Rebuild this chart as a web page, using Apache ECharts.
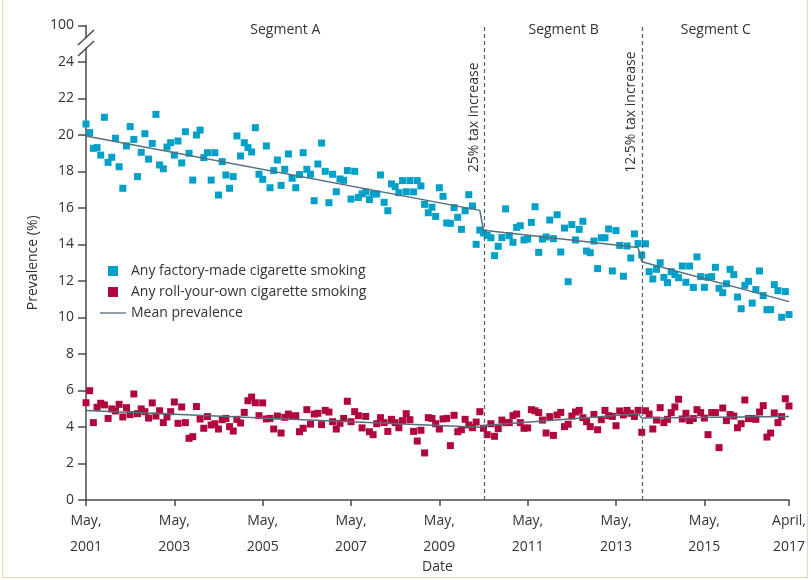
<!DOCTYPE html>
<html>
<head>
<meta charset="utf-8">
<script src="https://cdn.jsdelivr.net/npm/echarts@6/dist/echarts.min.js"></script>
<style>
  html, body { margin: 0; padding: 0; background: #fff; }
  #chart { width: 811px; height: 580px; }
  #frame {
    position: absolute; left: 2px; top: 0; width: 806px; height: 578px;
    box-sizing: border-box; border: 1px solid #f1d2b4; border-top: none;
    pointer-events: none;
  }
</style>
</head>
<body>
<div id="chart"></div>
<div id="frame"></div>
<script>
// monthly values, month 0 = May 2001, month 191 = April 2017
const factoryMade = [
  20.6, 20.13, 19.27, 19.31, 18.9, 20.97, 18.5, 18.78, 19.82, 18.26,
  17.08, 19.4, 20.46, 19.76, 17.72, 19.05, 20.07, 18.68, 19.54, 21.13,
  18.36, 18.15, 19.34, 19.58, 18.9, 19.67, 18.47, 20.18, 19.0, 17.53,
  20.0, 20.27, 18.76, 19.03, 17.53, 19.03, 16.71, 18.54, 17.81, 17.08,
  17.72, 19.95, 18.85, 19.58, 19.31, 19.07, 20.4, 17.85,
  17.57, 19.4, 17.11, 18.05, 18.63, 17.24, 18.12, 18.96, 17.63, 17.11,
  17.83, 19.03, 18.12, 17.85, 16.4, 18.41, 19.56, 18.01, 16.29, 17.85,
  16.89, 17.59, 17.52, 18.05, 16.49, 18.01, 16.58, 16.77, 16.88, 16.46,
  16.77, 16.77, 17.81, 16.31, 15.85, 17.32, 17.17, 16.84, 17.5, 16.89,
  17.5, 16.88, 17.5, 17.21, 16.2, 15.74, 16.04, 15.54,
  17.11, 16.64, 15.18, 15.16, 16.02, 15.49, 14.83, 15.85, 16.73, 16.11,
  14.01, 14.79, 14.63, 14.5, 14.37, 13.39, 13.9, 14.38, 15.95, 14.48,
  14.12, 14.94, 15.03, 14.25, 14.3, 15.21, 16.07, 13.57, 14.3, 14.41,
  15.34, 14.32, 15.63, 13.59, 14.9, 11.96, 15.09, 14.25, 14.83, 15.27,
  13.64, 13.55, 14.19, 12.68, 14.37, 14.37, 14.85,
  12.55, 14.76, 13.95, 12.26, 13.92, 13.26, 14.58, 14.05, 13.42, 14.04,
  12.51, 12.11, 12.64, 13.0, 12.2, 11.91, 12.51, 12.35, 12.18, 12.82,
  11.93, 12.82, 11.65, 13.32, 12.24, 11.65, 12.2, 12.24, 12.75, 11.6,
  11.36, 11.85, 12.64, 12.35, 11.12, 10.48, 11.76, 11.98, 10.79, 11.53,
  12.55, 11.2, 10.43, 10.43, 11.8, 11.47, 10.01, 11.42, 10.16
];
const rollYourOwn = [
  5.33, 5.99, 4.24, 5.08, 5.3, 5.21, 4.47, 4.99, 4.88, 5.24,
  4.55, 5.06, 4.68, 5.81, 4.73, 4.99, 4.84, 4.49, 5.32, 4.6,
  4.89, 4.24, 4.55, 4.84, 5.37, 4.2, 5.1, 4.24, 3.38, 3.47,
  5.12, 4.44, 3.93, 4.57, 4.11, 4.18, 3.89, 4.4, 4.47, 4.02,
  3.78, 4.42, 4.22, 4.8, 5.44, 5.64, 5.33, 4.62,
  5.32, 4.44, 4.47, 3.89, 4.6, 3.67, 4.53, 4.71, 4.58, 4.62,
  3.74, 3.93, 4.95, 4.16, 4.71, 4.75, 4.13, 4.91, 4.82, 4.29,
  3.89, 4.2, 4.47, 5.41, 4.29, 4.84, 4.62, 3.95, 4.58, 3.74,
  3.58, 4.18, 4.51, 4.24, 3.76, 4.42, 4.24, 3.96, 4.35, 4.73,
  4.4, 3.76, 3.23, 3.82, 2.58, 4.51, 4.47, 4.18,
  3.89, 4.44, 4.47, 2.98, 4.64, 3.74, 3.85, 4.42, 4.11, 3.96,
  4.27, 4.84, 3.93, 3.58, 4.18, 3.49, 3.91, 4.38, 4.24, 4.24,
  4.62, 4.71, 4.24, 3.93, 3.95, 4.95, 4.89, 4.79, 4.38, 3.67,
  4.57, 3.54, 4.66, 4.8, 4.02, 4.15, 4.6, 4.82, 4.91, 4.51,
  4.29, 4.02, 4.69, 3.85, 4.4, 4.91, 4.62,
  4.58, 4.07, 4.88, 4.66, 4.91, 4.75, 4.58, 4.91, 3.71, 4.89,
  4.71, 3.89, 4.38, 5.06, 4.24, 4.42, 4.79, 5.1, 5.52, 4.44,
  4.75, 4.35, 4.46, 4.95, 4.79, 4.49, 3.58, 4.79, 4.79, 2.87,
  5.04, 4.35, 4.68, 4.6, 3.96, 4.18, 5.48, 4.46, 4.46, 4.42,
  4.82, 5.17, 3.45, 3.67, 4.77, 4.24, 4.57, 5.55, 5.15
];

// segmented mean prevalence (ends of each segment)
const meanMonths = [0, 107, 108, 150, 151, 191];
const factoryMean = [19.95, 15.87, 14.78, 13.83, 13.06, 10.87];
const rollYourOwnMean = [4.91, 3.98, 4.08, 4.73, 4.49, 4.57];

const taxMonths = [108.3, 151.2];
const taxLabels = ['25% tax increase', '12·5% tax increase'];
const segmentNames = ['Segment A', 'Segment B', 'Segment C'];

const tickMonths = [0, 24, 48, 72, 96, 120, 144, 168, 191];
const tickLabels = ['May,\n2001', 'May,\n2003', 'May,\n2005', 'May,\n2007', 'May,\n2009',
  'May,\n2011', 'May,\n2013', 'May,\n2015', 'April,\n2017'];
const lastMonth = 191;

const FONT = '"Open Sans", sans-serif';
const AXIS = '#4a4a4a';
const CYAN = '#00a0c8';
const RED = '#b0063c';
const MEAN = '#546e7c';
const DASH = '#45627a';

let chart = echarts.init(document.getElementById('chart'));

const toPairs = (arr) => arr.map((v, i) => [i, v]);
const meanPairs = (arr) => arr.map((v, i) => [meanMonths[i], v]);
const bounds = [0, ...taxMonths, lastMonth];
const squareIcon = 'path://M0 0H10V10H0Z';
const lineIcon = 'path://M0 0H26V1.3H0Z';

let options = {
  animation: false,
  textStyle: { fontFamily: FONT, color: '#333' },
  grid: { left: 86, right: 22, top: 25.5, bottom: 80, outerBoundsMode: 'none' },
  legend: {
    orient: 'vertical',
    left: 100,
    top: 264,
    padding: 0,
    itemWidth: 26,
    itemHeight: 10,
    itemGap: 7,
    symbolKeepAspect: true,
    textStyle: { fontSize: 14, color: '#333', fontFamily: FONT },
    data: [
      { name: 'Any factory-made cigarette smoking', icon: squareIcon },
      { name: 'Any roll-your-own cigarette smoking', icon: squareIcon },
      { name: 'Mean prevalence', icon: lineIcon }
    ]
  },
  xAxis: {
    type: 'value',
    min: 0,
    max: lastMonth,
    interval: 24,
    name: 'Date',
    nameLocation: 'middle',
    nameGap: 60,
    nameMoveOverlap: false,
    nameTextStyle: { fontSize: 14, color: '#333' },
    axisLine: { show: true, lineStyle: { color: AXIS, width: 1.5 } },
    axisTick: { show: true, length: 6, lineStyle: { color: AXIS, width: 1.5 } },
    axisLabel: {
      fontSize: 14,
      color: '#333',
      lineHeight: 26,
      margin: 8,
      formatter: (v) => {
        const i = tickMonths.indexOf(v);
        return i >= 0 ? tickLabels[i] : '';
      }
    },
    splitLine: { show: false }
  },
  yAxis: {
    type: 'value',
    min: 0,
    max: 26,
    interval: 2,
    name: 'Prevalence (%)',
    nameLocation: 'middle',
    nameGap: 46,
    nameMoveOverlap: false,
    nameTextStyle: { fontSize: 14, color: '#333' },
    axisLine: { show: true, lineStyle: { color: AXIS, width: 1.5 } },
    axisTick: { show: true, length: 8, lineStyle: { color: AXIS, width: 1.5 } },
    axisLabel: {
      fontSize: 14,
      color: '#333',
      margin: 12,
      formatter: (v) => (v === 26 ? '100' : String(v))
    },
    splitLine: { show: false }
  },
  series: [
    {
      name: 'Any factory-made cigarette smoking',
      type: 'scatter',
      symbol: 'rect',
      symbolSize: 7,
      itemStyle: { color: CYAN, opacity: 1 },
      data: toPairs(factoryMade),
      markArea: {
        silent: true,
        itemStyle: { color: 'rgba(0,0,0,0)' },
        label: {
          position: 'insideTop',
          offset: [0, -7],
          fontSize: 14,
          color: '#333',
          fontFamily: FONT
        },
        data: segmentNames.map((n, i) => [{ name: n, xAxis: bounds[i] }, { xAxis: bounds[i + 1] }])
      },
      markLine: {
        silent: true,
        symbol: 'none',
        lineStyle: { color: DASH, type: [4, 3], width: 1.2 },
        label: {
          position: 'insideEndTop',
          fontSize: 14,
          color: '#333',
          fontFamily: FONT
        },
        data: taxMonths.map((m, i) => ({
          xAxis: m,
          label: { formatter: taxLabels[i], distance: [i === 0 ? 37 : 26, 4] }
        }))
      }
    },
    {
      name: 'Any roll-your-own cigarette smoking',
      type: 'scatter',
      symbol: 'rect',
      symbolSize: 7,
      itemStyle: { color: RED, opacity: 1 },
      data: toPairs(rollYourOwn)
    },
    {
      name: 'Mean prevalence',
      type: 'line',
      showSymbol: false,
      symbol: 'none',
      lineStyle: { color: MEAN, width: 1.5 },
      itemStyle: { color: MEAN },
      data: meanPairs(factoryMean)
    },
    {
      name: 'Mean prevalence',
      type: 'line',
      showSymbol: false,
      symbol: 'none',
      lineStyle: { color: MEAN, width: 1.5 },
      itemStyle: { color: MEAN },
      data: meanPairs(rollYourOwnMean)
    }
  ],
  // axis break marks between 24 and 100
  graphic: [
    { type: 'rect', z: 100, shape: { x: 83, y: 38.5, width: 6, height: 9 }, style: { fill: '#fff' } },
    { type: 'line', z: 101, shape: { x1: 78, y1: 45, x2: 94, y2: 30 }, style: { stroke: AXIS, lineWidth: 1.5 } },
    { type: 'line', z: 101, shape: { x1: 78, y1: 56, x2: 94, y2: 41 }, style: { stroke: AXIS, lineWidth: 1.5 } }
  ]
};

chart.setOption(options);
</script>
</body>
</html>
